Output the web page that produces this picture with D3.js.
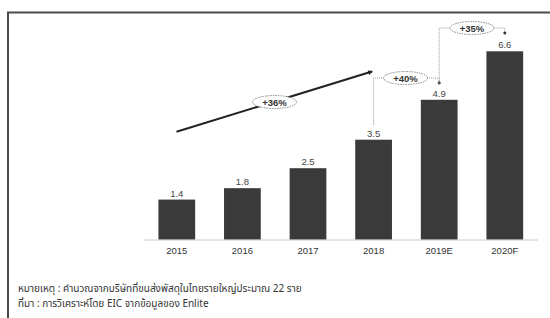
<!DOCTYPE html>
<html>
<head>
<meta charset="utf-8">
<script src="https://cdn.jsdelivr.net/npm/d3@7"></script>
<style>
  body { margin: 0; background: #fff; }
  svg { display: block; }
</style>
</head>
<body>
<svg id="chart"></svg>
<script>
// Data
let years = ['2015', '2016', '2017', '2018', '2019E', '2020F'];
let parcels = [1.4, 1.8, 2.5, 3.5, 4.9, 6.6];
let growthLabels = ['+36%', '+40%', '+35%'];
let notes = [
    'หมายเหตุ : คำนวณจากบริษัทที่ขนส่งพัสดุในไทยรายใหญ่ประมาณ 22 ราย',
    'ที่มา : การวิเคราะห์โดย EIC จากข้อมูลของ Enlite'
];

let width = 550;
let height = 318;
let baseY = 239.5;

let svg = d3.select('#chart')
    .attr('width', width)
    .attr('height', height);

// frame (only top and left edges visible)
svg.append('rect')
    .attr('x', 8).attr('y', 12.5)
    .attr('width', 560).attr('height', 340)
    .attr('fill', 'none')
    .attr('stroke', '#4a4a4a')
    .attr('stroke-width', 2);

// Scales
let x = d3.scaleBand()
    .domain(years)
    .range([144, 537.6])
    .paddingInner(0.44)
    .paddingOuter(0.22);

let y = d3.scaleLinear()
    .domain([0, 8.4])
    .range([baseY, 0]);

// bars
svg.selectAll('rect.bar')
    .data(parcels)
    .enter()
    .append('rect')
    .attr('class', 'bar')
    .attr('x', (d, i) => x(years[i]))
    .attr('y', d => y(d))
    .attr('width', x.bandwidth())
    .attr('height', d => baseY - y(d))
    .attr('fill', '#3a3a3a');

// value labels
svg.selectAll('text.val')
    .data(parcels)
    .enter()
    .append('text')
    .attr('class', 'val')
    .attr('x', (d, i) => x(years[i]) + x.bandwidth() / 2)
    .attr('y', d => y(d) - 3)
    .attr('text-anchor', 'middle')
    .attr('font-family', 'Liberation Sans, Arial, sans-serif')
    .attr('font-size', 9.5)
    .attr('fill', '#444')
    .text(d => d.toFixed(1));

// x axis
let xAxis = svg.append('g')
    .attr('transform', `translate(0,${baseY})`)
    .call(d3.axisBottom(x).tickSize(0).tickPadding(8));
xAxis.select('.domain')
    .attr('stroke', '#999')
    .attr('stroke-dasharray', '1,1');
xAxis.selectAll('text')
    .attr('font-family', 'Liberation Sans, Arial, sans-serif')
    .attr('font-size', 9.5)
    .attr('fill', '#333');

// CAGR arrow
svg.append('defs').append('marker')
    .attr('id', 'head')
    .attr('viewBox', '0 0 10 10')
    .attr('refX', 8).attr('refY', 5)
    .attr('markerWidth', 2.5).attr('markerHeight', 2.5)
    .attr('orient', 'auto')
    .append('path')
    .attr('d', 'M0,0L10,5L0,10z')
    .attr('fill', '#222');

svg.append('line')
    .attr('x1', 176.5).attr('y1', 131.7)
    .attr('x2', 372).attr('y2', 71.5)
    .attr('stroke', '#222')
    .attr('stroke-width', 2)
    .attr('marker-end', 'url(#head)');

function bubble(cx, cy, label) {
    svg.append('ellipse')
        .attr('cx', cx).attr('cy', cy)
        .attr('rx', 22).attr('ry', 6.5)
        .attr('fill', '#fff')
        .attr('stroke', '#888')
        .attr('stroke-width', 1)
        .attr('stroke-dasharray', '1.5,1');
    svg.append('text')
        .attr('x', cx).attr('y', cy + 3.5)
        .attr('text-anchor', 'middle')
        .attr('font-family', 'Liberation Sans, Arial, sans-serif')
        .attr('font-weight', 'bold')
        .attr('font-size', 9.5)
        .attr('fill', '#333')
        .text(label);
}

function bracket(i, topY, cx) {
    let x0 = x(years[i]) + x.bandwidth() / 2;
    let x1 = x(years[i + 1]) + x.bandwidth() / 2;
    let y0 = y(parcels[i]) - 15;
    let y1 = y(parcels[i + 1]) - 17;
    svg.append('path')
        .attr('d', `M${x0},${y0}V${topY}H${x1}V${Math.min(y1, topY + 5)}`)
        .attr('fill', 'none')
        .attr('stroke', '#999')
        .attr('stroke-width', 1)
        .attr('stroke-dasharray', '1,1');
    svg.append('circle')
        .attr('cx', x1).attr('cy', Math.min(y1, topY + 5))
        .attr('r', 1.5)
        .attr('fill', '#333');
    bubble(cx, topY, growthLabels[i - 2]);
}

bubble(274.5, 102, growthLabels[0]);
bracket(3, 78, 405.5);
bracket(4, 28, 472);

// notes
svg.selectAll('text.note')
    .data(notes)
    .enter()
    .append('text')
    .attr('class', 'note')
    .attr('x', 18)
    .attr('y', (d, i) => 292 + i * 14.5)
    .attr('font-family', 'Noto Sans Thai, Tahoma, Liberation Sans, sans-serif')
    .attr('font-size', 10)
    .attr('fill', '#333')
    .text(d => d);
</script>
</body>
</html>
